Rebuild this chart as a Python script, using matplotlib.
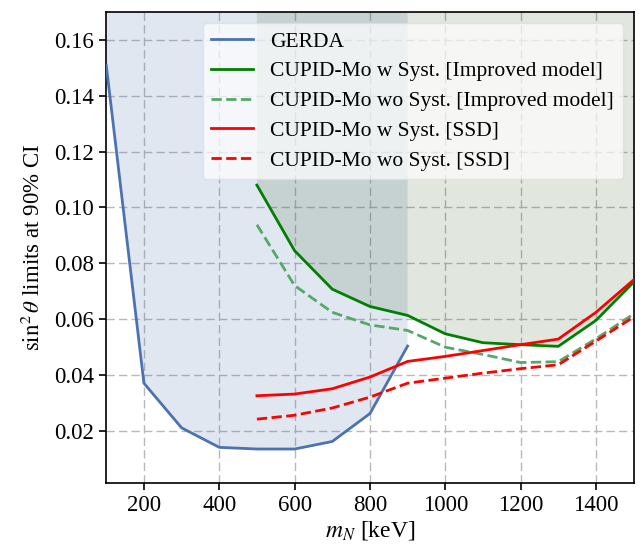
import matplotlib
matplotlib.use("Agg")
import matplotlib.pyplot as plt
import numpy as np

plt.rcParams['font.family'] = ['Liberation Serif', 'DejaVu Serif']
plt.rcParams['mathtext.fontset'] = 'stix'

# Data
gerda_x = [100, 200, 300, 400, 500, 600, 700, 800, 900]
gerda_y = [0.151, 0.037, 0.021, 0.014, 0.0134, 0.0134, 0.0161, 0.0261, 0.0503]

cup_x = [500, 600, 700, 800, 900, 1000, 1100, 1200, 1300, 1400, 1500]
imp_w = [0.108, 0.0845, 0.0707, 0.0645, 0.0613, 0.0547, 0.0515, 0.0508, 0.0502, 0.0595, 0.0732]
imp_wo = [0.0938, 0.0720, 0.0624, 0.0579, 0.0559, 0.0499, 0.0473, 0.0444, 0.0447, 0.0529, 0.0618]
ssd_w = [0.0325, 0.0331, 0.0350, 0.0392, 0.0448, 0.0466, 0.0487, 0.0508, 0.0528, 0.0624, 0.0740]
ssd_wo = [0.0241, 0.0255, 0.0281, 0.0320, 0.0370, 0.0388, 0.0406, 0.0422, 0.0436, 0.0521, 0.0607]

labels = ["GERDA",
          "CUPID-Mo w Syst. [Improved model]",
          "CUPID-Mo wo Syst. [Improved model]",
          "CUPID-Mo w Syst. [SSD]",
          "CUPID-Mo wo Syst. [SSD]"]

fig = plt.figure(figsize=(6.4, 5.53), dpi=100)
ax = fig.add_axes([0.166, 0.127, 0.824, 0.851])

ax.fill_between(gerda_x, gerda_y, 1.0, color='#4c72b0', alpha=0.17, lw=0, zorder=1)
ax.fill_between(cup_x, imp_w, 1.0, color='#375823', alpha=0.15, lw=0, zorder=1)

ax.plot(gerda_x, gerda_y, color='#4c72b0', lw=2, label=labels[0], zorder=3)
ax.plot(cup_x, imp_w, color='green', lw=2, label=labels[1], zorder=3)
ax.plot(cup_x, imp_wo, color='#55a868', lw=2, ls='--', label=labels[2], zorder=3)
ax.plot(cup_x, ssd_w, color='red', lw=2, label=labels[3], zorder=3)
ax.plot(cup_x, ssd_wo, color='red', lw=2, ls='--', label=labels[4], zorder=3)

ax.set_xlim(100, 1500)
ax.set_ylim(0.0013, 0.170)
ax.set_xticks([200, 400, 600, 800, 1000, 1200, 1400])
ax.set_yticks([0.02, 0.04, 0.06, 0.08, 0.10, 0.12, 0.14, 0.16])
ax.set_yticklabels(["0.02", "0.04", "0.06", "0.08", "0.10", "0.12", "0.14", "0.16"])
ax.grid(True, ls=(0, (6, 3)), color='#b8b8b8', lw=1, zorder=0)
ax.set_axisbelow(True)
ax.tick_params(direction='out', length=5, width=1.2, labelsize=16.5, colors='black', pad=4)
for s in ax.spines.values():
    s.set_linewidth(1.2)
    s.set_color('black')

ax.set_xlabel(r"$m_N$ [keV]", fontsize=17, labelpad=2)
ax.set_ylabel(r"$\sin^2\theta$ limits at 90% CI", fontsize=16.5, labelpad=6)

leg = ax.legend(loc='upper right', fontsize=15.5, framealpha=0.7, edgecolor='#dddddd',
                fancybox=True, borderpad=0.4, labelspacing=0.45, handlelength=1.95,
                handletextpad=0.8, borderaxespad=0.5)
leg.set_zorder(5)

fig.savefig("out.png", dpi=100)
